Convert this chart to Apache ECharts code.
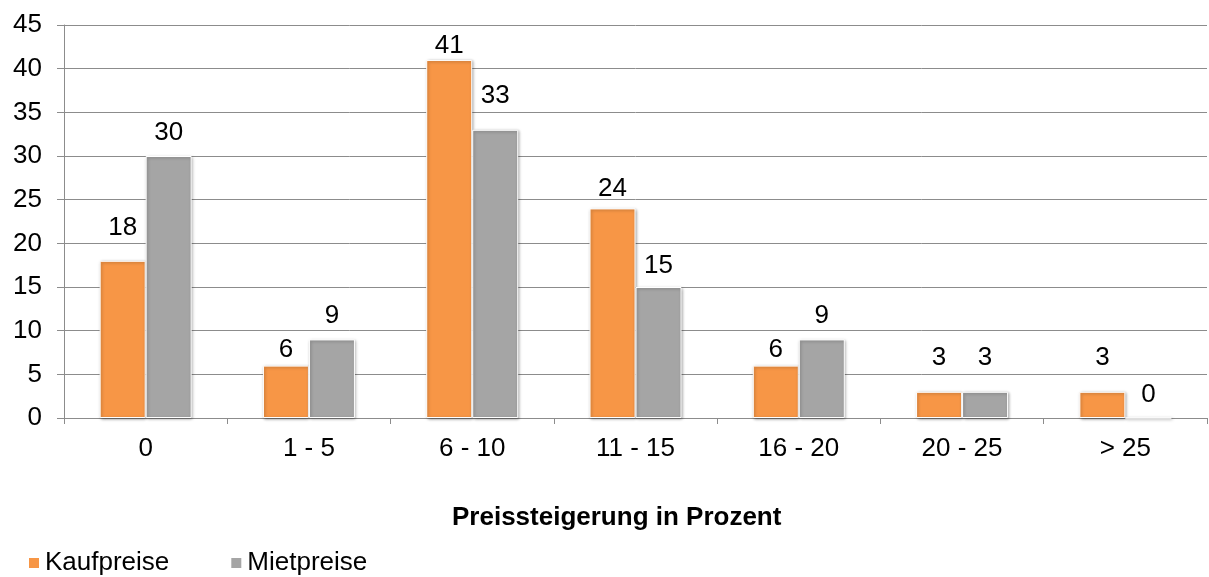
<!DOCTYPE html>
<html>
<head>
<meta charset="utf-8">
<script src="https://cdn.jsdelivr.net/npm/echarts@6/dist/echarts.min.js"></script>
<style>
  html, body { margin: 0; padding: 0; background: #fff; }
  #chart { width: 1209px; height: 577px; }
</style>
</head>
<body>
<div id="chart"></div>
<script>
const categories = ['0', '1 - 5', '6 - 10', '11 - 15', '16 - 20', '20 - 25', '> 25']
const kaufpreise = [18, 6, 41, 24, 6, 3, 3]
const mietpreise = [30, 9, 33, 15, 9, 3, 0]

// gap between bar top and its value label, as placed in the original
const kaufLabelGap = [20, 3, 1, 7, 3, 21, 21]
const mietLabelGap = [10, 11, 21, 8, 11, 21, 10]

const font = 'Liberation Sans, Arial, sans-serif'
const gridColor = '#8c8c8c'

const chart = echarts.init(document.getElementById('chart'))

const barStyle = color => ({
  color: color,
  borderColor: '#fff',
  borderWidth: 1,
  shadowBlur: 3,
  shadowColor: 'rgba(0,0,0,0.35)',
  shadowOffsetX: 1,
  shadowOffsetY: 1
})

const withLabels = (values, gaps) => values.map((v, i) => ({
  value: v,
  label: { distance: gaps[i] }
}))

const labelStyle = {
  show: true,
  position: 'top',
  color: '#000',
  fontFamily: font,
  fontSize: 26
}

chart.setOption({
  animation: false,
  title: {
    text: 'Preissteigerung in Prozent',
    left: 452,
    top: 505,
    padding: 0,
    textStyle: { fontFamily: font, fontSize: 26, fontWeight: 'bold', color: '#000' }
  },
  grid: { left: 64, right: 2, top: 25, bottom: 159 },
  legend: {
    left: 27,
    top: 550,
    padding: 0,
    itemWidth: 12,
    itemHeight: 12,
    itemGap: 60,
    icon: 'rect',
    textStyle: { fontFamily: font, fontSize: 26, color: '#000' },
    data: ['Kaufpreise', 'Mietpreise']
  },
  xAxis: {
    type: 'category',
    data: categories,
    axisLine: { lineStyle: { color: gridColor, width: 1 } },
    axisTick: { show: true, length: 6, lineStyle: { color: gridColor } },
    axisLabel: { fontFamily: font, fontSize: 26, color: '#000', margin: 18 }
  },
  yAxis: {
    type: 'value',
    min: 0,
    max: 45,
    interval: 5,
    axisLine: { show: true, lineStyle: { color: gridColor, width: 1 } },
    axisTick: { show: true, length: 7, lineStyle: { color: gridColor } },
    axisLabel: { fontFamily: font, fontSize: 26, color: '#000', margin: 22 },
    splitLine: { lineStyle: { color: gridColor, width: 1 } }
  },
  series: [
    {
      name: 'Kaufpreise',
      type: 'bar',
      data: withLabels(kaufpreise, kaufLabelGap),
      barWidth: 46,
      barGap: '0%',
      itemStyle: barStyle('#f79646'),
      label: labelStyle
    },
    {
      name: 'Mietpreise',
      type: 'bar',
      data: withLabels(mietpreise, mietLabelGap),
      barWidth: 46,
      barGap: '0%',
      itemStyle: barStyle('#a5a5a5'),
      label: labelStyle
    }
  ]
})
</script>
</body>
</html>
